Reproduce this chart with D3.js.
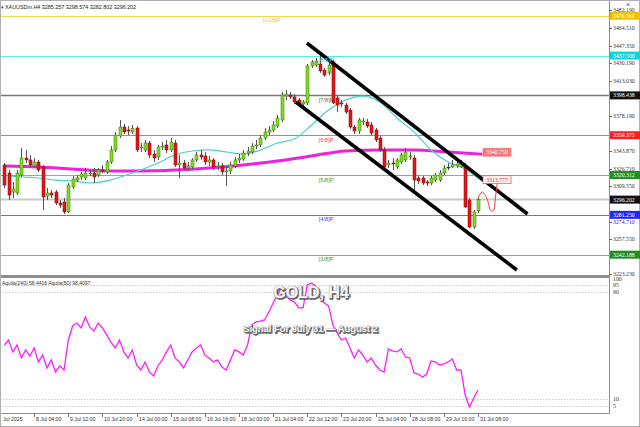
<!DOCTYPE html>
<html><head><meta charset="utf-8">
<script src="https://cdn.jsdelivr.net/npm/d3@7"></script>
<style>body{margin:0;background:#fff}svg{display:block}</style>
</head><body><svg id="c" width="640" height="427"></svg>
<script>
// ---------------- DATA ----------------
const symbolHeader = "XAUUSDm,H4  3285.257 3298.574 3282.802 3296.202";
const opens = [3330.2,3322.3,3303.7,3302.7,3320.3,3337.0,3335.1,3329.2,3333.1,3328.2,
3299.7,3302.7,3303.7,3292.9,3293.9,3284.1,3308.6,3315.4,3318.4,3317.4,
3321.3,3322.3,3320.3,3325.2,3323.3,3333.1,3344.9,3358.6,3367.4,3364.5,
3362.5,3366.4,3346.8,3344.9,3351.7,3340.9,3338.0,3347.8,3349.8,3344.9,
3351.7,3330.2,3332.1,3327.2,3328.2,3335.1,3340.0,3339.0,3333.1,3335.1,
3328.2,3329.2,3323.3,3324.3,3329.2,3335.1,3336.0,3341.9,3342.9,3348.8,
3349.8,3356.6,3362.5,3364.5,3368.4,3374.3,3397.8,3398.8,3396.9,3393.9,
3390.0,3391.0,3427.3,3428.2,3429.2,3423.3,3420.4,3431.2,3395.9,3391.0,
3389.0,3384.1,3367.4,3363.5,3372.3,3372.3,3369.4,3364.5,3356.6,3344.9,
3330.2,3332.1,3328.2,3333.1,3335.1,3338.0,3337.0,3317.4,3317.4,3313.5,
3312.5,3315.4,3315.4,3322.3,3328.2,3328.2,3329.2,3328.2,3328.2,3295.8,
3269.3,3285.257];
const highs = [3332.1,3325.2,3313.5,3325.2,3346.8,3344.9,3340.0,3337.0,3335.1,3330.2,
3307.6,3305.6,3305.6,3295.8,3297.8,3312.5,3319.4,3320.3,3323.3,3327.2,
3325.2,3327.2,3327.2,3330.2,3335.1,3348.8,3362.5,3374.3,3370.4,3368.4,
3369.4,3368.4,3351.7,3354.7,3353.7,3344.9,3349.8,3352.7,3354.7,3356.6,
3354.7,3340.0,3335.1,3333.1,3337.0,3342.9,3344.9,3342.9,3339.0,3337.0,
3333.1,3332.1,3329.2,3333.1,3338.0,3340.9,3344.9,3347.8,3351.7,3354.7,
3359.6,3366.4,3368.4,3373.3,3379.2,3401.8,3403.7,3401.8,3399.8,3395.9,
3393.9,3429.2,3433.2,3435.1,3438.1,3425.3,3430.2,3433.2,3398.8,3393.9,
3391.0,3386.1,3369.4,3376.3,3376.3,3375.3,3372.3,3366.4,3358.6,3347.8,
3335.1,3337.0,3337.0,3341.9,3346.8,3342.9,3340.0,3320.3,3319.4,3315.4,
3319.4,3322.3,3325.2,3330.2,3332.1,3335.1,3335.1,3335.1,3332.1,3297.8,
3286.0,3298.574];
const lows = [3307.6,3295.8,3297.8,3300.7,3318.4,3332.1,3328.2,3327.2,3323.3,3286.0,
3295.8,3297.8,3290.9,3288.0,3282.1,3283.1,3306.6,3313.5,3315.4,3315.4,
3319.4,3312.5,3318.4,3322.3,3321.3,3331.1,3342.9,3356.6,3360.6,3359.6,
3360.6,3342.9,3342.9,3342.9,3337.0,3333.1,3335.1,3344.9,3341.9,3342.9,
3328.2,3317.4,3325.2,3324.3,3326.2,3333.1,3335.1,3330.2,3329.2,3325.2,
3325.2,3320.3,3309.6,3321.3,3327.2,3332.1,3334.1,3339.0,3340.9,3345.8,
3347.8,3354.7,3359.6,3362.5,3366.4,3372.3,3393.9,3394.9,3390.0,3388.0,
3387.0,3389.0,3425.3,3426.3,3420.4,3416.5,3418.4,3390.0,3382.1,3387.0,
3380.2,3365.5,3360.6,3360.6,3369.4,3366.4,3359.6,3352.7,3342.9,3326.2,
3327.2,3325.2,3326.2,3331.1,3333.1,3335.1,3305.6,3311.5,3310.5,3309.6,
3310.5,3313.5,3313.5,3320.3,3325.2,3327.2,3327.2,3327.2,3288.0,3268.4,
3267.4,3282.802];
const closes = [3310.5,3300.7,3306.6,3322.3,3337.0,3335.1,3330.2,3333.1,3325.2,3298.8,
3302.7,3300.7,3292.9,3290.9,3284.1,3310.5,3316.4,3317.4,3321.3,3322.3,
3322.3,3318.4,3325.2,3325.0,3333.1,3344.9,3359.6,3367.4,3362.5,3363.5,
3366.4,3344.9,3347.8,3351.7,3340.0,3337.0,3347.8,3348.8,3344.9,3352.7,
3330.2,3332.1,3327.2,3329.2,3335.1,3340.0,3338.0,3333.1,3335.1,3328.2,
3329.2,3323.3,3324.3,3330.2,3335.1,3337.0,3341.9,3343.9,3348.8,3349.8,
3356.6,3362.5,3364.5,3369.4,3376.3,3398.8,3399.8,3396.9,3392.0,3390.0,
3392.0,3427.3,3431.2,3432.2,3422.4,3418.4,3428.2,3391.0,3389.0,3390.0,
3382.1,3367.4,3363.5,3374.3,3373.3,3368.4,3361.5,3354.7,3344.9,3328.2,
3332.1,3331.1,3335.1,3340.0,3342.9,3339.0,3315.4,3314.5,3312.5,3312.5,
3317.4,3320.3,3322.3,3327.2,3327.5,3330.2,3331.1,3332.1,3289.0,3269.3,
3284.1,3296.202];

// moving averages (at every 4th / 8th bar)
const maFastIdx = [0,4,8,12,16,20,24,28,32,36,40,44,48,52,56,60,64,68,72,76,80,84,88,92,96,100,104,108,112];
const maFastVal = [3320.3,3318.4,3317.4,3315.4,3314.5,3312.5,3314.5,3319.4,3325.2,3332.1,3340.0,3343.9,3344.9,3342.9,3340.9,3344.9,3351.7,3355.7,3369.4,3384.1,3393.9,3397.8,3392.0,3376.3,3362.5,3344.9,3333.1,3326.2,3313.8];
const maSlowIdx = [0,8,16,24,32,40,48,56,64,72,80,88,96,104,112];
const maSlowVal = [3329.2,3328.2,3326.2,3324.3,3324.3,3325.2,3327.2,3330.2,3334.1,3339.0,3343.9,3344.9,3344.9,3342.9,3340.75];
const maLabels = ["3340.750","3313.777"];

// Murrey levels
const levelNames = ["[+1/8]P","[8/8]P","[7/8]P","[6/8]P","[5/8]P","[4/8]P","[3/8]P"];
const levelValues = [3476.562,3437.500,3398.438,3359.375,3320.312,3281.250,3242.188];
const levelLabels = ["3476.562","3437.500","3398.438","3359.375","3320.312","3281.250","3242.188"];

// channel lines [barIndex, price]
const channelUpper = [[70.9,3449.8],[122.6,3282.1]];
const channelLower = [[68.3,3392.0],[120.1,3227.2]];
// projected path
const projection = [[111,3297.8],[112,3303.6],[113.1,3297.0],[114,3285.5],[114.6,3285.0],[115.1,3299.0],[115.5,3313.0]];

// oscillator
const oscValues = [50.4,54.1,45.2,50.4,40.7,46.7,42.2,48.1,37.7,42.9,
33.2,39.2,30.2,34.7,31.7,54.1,64.6,66.8,63.1,71.3,
63.9,60.9,66.8,63.1,57.9,52.6,48.1,54.1,45.2,40.7,
46.7,35.4,31.7,37.7,30.2,27.2,34.7,39.2,45.2,50.4,
40.7,37.7,33.2,39.2,45.2,48.1,50.4,42.9,40.7,37.7,
39.2,33.9,31.7,39.2,46.7,45.2,42.9,50.4,65.3,67.6,
68.3,69.1,75.1,81.8,87.8,93.8,87.0,84.0,82.5,78.1,
78.1,95.2,96.7,94.5,85.5,81.8,79.6,65.3,59.4,54.1,
55.6,48.1,40.7,46.7,42.9,37.7,40.7,35.4,31.7,30.2,
47.4,45.9,45.2,47.4,41.4,40.7,29.5,28.7,26.5,28.7,
38.4,37.7,35.4,36.2,37.7,39.9,31.7,31.7,13.0,4.0,
10.8,16.7];
const oscLegend = "Aquila(240) 58.4416   Aquila(50) 98.4097";
const oscLevels = [95,90,10,5];
const oscTickLabels = [100,95,90,10,5];

// visible price-axis ticks (those hidden behind level boxes omitted)
const priceTicks = [3482.190,3464.510,3447.350,3430.190,3413.030,3378.190,3343.870,3326.710,3309.550,3274.710,3257.550,3223.230];
const timeTickIdx = [-1,7,15,23,31,39,47,55,63,71,79,87,95,103,111];
const timeTickLabels = ["Jul 2025","8 Jul 04:00","9 Jul 12:00","10 Jul 20:00","14 Jul 00:00","15 Jul 08:00","16 Jul 16:00","18 Jul 00:00","21 Jul 04:00","22 Jul 12:00","23 Jul 20:00","25 Jul 04:00","28 Jul 08:00","29 Jul 16:00","31 Jul 08:00"];
const titleText = "GOLD, H4";
const subtitleText = "Signal For July 31 \u2014 August 2";

// ---------------- DRAW ----------------
const svg = d3.select('#c');
const PR = 609; // plot right edge
const x = d3.scaleLinear().domain([0,111]).range([4.3,478]);
const y = d3.scaleLinear().domain([3223.23,3482.19]).range([274,10]);
const yi = d3.scaleLinear().domain([0,100]).range([412.4,278.6]);
const FONT = "'Liberation Sans','DejaVu Sans',sans-serif";
const SERIF = "'Liberation Serif','DejaVu Serif',serif";

svg.append('rect').attr('width',640).attr('height',427).attr('fill','#fff');
const defs = svg.append('defs');
defs.append('clipPath').attr('id','cm').append('rect').attr('x',0).attr('y',0).attr('width',PR).attr('height',275);
defs.append('clipPath').attr('id','ci').append('rect').attr('x',0).attr('y',279).attr('width',PR).attr('height',134);

const main = svg.append('g').attr('clip-path','url(#cm)');

const lineCol = ["#f3d35a","#5ee8e8","#7a7a7a","#f26a6a","#6cc46c","#6a6af2","#6cc46c"];
const boxCol  = ["#f2c200","#12d6d6","#111111","#ff1f1f","#1f8f1f","#2424ff","#1f8f1f"];
const txtCol  = ["#e6c040","#3cc8c8","#666","#e04848","#3a9a3a","#4848e0","#3a9a3a"];
const levels = levelValues.map((v,k)=>({v,k}));

// levels
main.selectAll('line.lv').data(levels).join('line')
  .attr('x1',0).attr('x2',PR)
  .attr('y1',d=>Math.round(y(d.v))+0.5).attr('y2',d=>Math.round(y(d.v))+0.5)
  .attr('stroke',d=>lineCol[d.k]).attr('stroke-width',d=>d.k===2?1.3:1);

// current price line
const last = closes[closes.length-1];
main.append('line').attr('x1',0).attr('x2',PR).attr('y1',y(last)).attr('y2',y(last))
  .attr('stroke','#c9c9c9').attr('stroke-width',2);

// moving averages
const maLine = d3.line().x(d=>x(d[0])).y(d=>y(d[1])).curve(d3.curveMonotoneX);
main.append('path').attr('d',maLine(maSlowIdx.map((d,k)=>[d,maSlowVal[k]])))
  .attr('fill','none').attr('stroke','#ee22dd').attr('stroke-width',3);
main.append('path').attr('d',maLine(maFastIdx.map((d,k)=>[d,maFastVal[k]])))
  .attr('fill','none').attr('stroke','#45d3ca').attr('stroke-width',1.2);

// candles
const bars = opens.map((o,i)=>({i,o,h:highs[i],l:lows[i],c:closes[i]}));
const cx = i=>Math.round(x(i));
main.selectAll('line.wk').data(bars).join('line')
  .attr('x1',d=>cx(d.i)+0.5).attr('x2',d=>cx(d.i)+0.5)
  .attr('y1',d=>y(d.h)).attr('y2',d=>y(d.l))
  .attr('stroke','#555').attr('stroke-width',1);
main.selectAll('rect.bd').data(bars).join('rect')
  .attr('x',d=>cx(d.i)-1).attr('width',3)
  .attr('y',d=>y(Math.max(d.o,d.c)))
  .attr('height',d=>Math.max(1,Math.abs(y(d.o)-y(d.c))))
  .attr('fill',d=>d.c>=d.o?'#7fdf1f':'#e31616')
  .attr('stroke',d=>d.c>=d.o?'#3d6b12':'#7d0b0b').attr('stroke-width',0.5);

// channel
[channelUpper,channelLower].forEach(ch=>{
  main.append('line').attr('x1',x(ch[0][0])).attr('y1',y(ch[0][1]))
    .attr('x2',x(ch[1][0])).attr('y2',y(ch[1][1]))
    .attr('stroke','#000').attr('stroke-width',3.6);
});

// projection
main.append('path').attr('d',d3.line().x(d=>x(d[0])).y(d=>y(d[1])).curve(d3.curveCatmullRom)(projection))
  .attr('fill','none').attr('stroke','#e23a3a').attr('stroke-width',1);

// level labels
main.selectAll('text.lvl').data(levels).join('text')
  .attr('x',d=>d.k===0?x(60.6):x(73.7)).attr('y',d=>y(d.v)+6.5)
  .attr('font-family',FONT).attr('font-size',5.6).attr('fill',d=>txtCol[d.k])
  .text(d=>levelNames[d.k]);

// MA labels
const maLab = [{v:maSlowVal[maSlowVal.length-1],t:maLabels[0],f:'#f27a7a',s:'#f27a7a',tc:'#fff'},
               {v:maFastVal[maFastVal.length-1],t:maLabels[1],f:'#fff0f0',s:'#f05050',tc:'#e63a3a'}];
maLab.forEach(m=>{
  const yy = y(m.v)-2;
  main.append('rect').attr('x',483).attr('y',yy-4).attr('width',28).attr('height',8)
    .attr('fill',m.f).attr('stroke',m.s).attr('stroke-width',0.7);
  main.append('text').attr('x',497).attr('y',yy+2).attr('text-anchor','middle')
    .attr('font-family',SERIF).attr('font-size',5.8).attr('fill',m.tc).text(m.t);
});

// header
svg.append('text').attr('x',1).attr('y',8.5).attr('font-size',5).attr('fill','#333').text('\u25BE');
svg.append('text').attr('x',5).attr('y',8.5).attr('font-family',FONT).attr('font-size',5.4)
  .attr('fill','#222').text(symbolHeader);
svg.append('text').attr('x',626).attr('y',7).attr('font-family',FONT).attr('font-size',7).attr('fill','#555').text('\u00D7');

// indicator
const ind = svg.append('g').attr('clip-path','url(#ci)');
ind.selectAll('line.ol').data(oscLevels).join('line')
  .attr('x1',0).attr('x2',PR).attr('y1',d=>Math.round(yi(d))+0.5).attr('y2',d=>Math.round(yi(d))+0.5)
  .attr('stroke','#bbb').attr('stroke-dasharray','1.5,1.5').attr('stroke-width',0.8);
ind.append('path').attr('d',d3.line().x((d,i)=>x(i)).y(d=>yi(d))(oscValues))
  .attr('fill','none').attr('stroke','#ff1cff').attr('stroke-width',1.3);
svg.append('text').attr('x',2).attr('y',285).attr('font-family',FONT).attr('font-size',5)
  .attr('fill','#333').text(oscLegend);

// overlay titles
function emboss(t,xx,yy,size){
  svg.append('text').attr('x',xx+1).attr('y',yy+1.2).attr('text-anchor','middle')
    .attr('font-family',FONT).attr('font-weight','bold').attr('font-size',size)
    .attr('fill','#666').attr('stroke','#666').attr('stroke-width',1.4).text(t);
  svg.append('text').attr('x',xx).attr('y',yy).attr('text-anchor','middle')
    .attr('font-family',FONT).attr('font-weight','bold').attr('font-size',size)
    .attr('fill','#f6f6f6').attr('stroke','#8a8a8a').attr('stroke-width',0.7)
    .attr('paint-order','stroke').text(t);
}
emboss(titleText,311,298,16);
emboss(subtitleText,310.5,332,9.4);

// frames
svg.append('rect').attr('x',0).attr('y',275).attr('width',PR).attr('height',3).attr('fill','#8c8c8c');
svg.append('line').attr('x1',PR+0.5).attr('x2',PR+0.5).attr('y1',0).attr('y2',413.5).attr('stroke','#8c8c8c');
svg.append('line').attr('x1',0).attr('x2',PR+0.5).attr('y1',413.5).attr('y2',413.5).attr('stroke','#8c8c8c');
svg.append('rect').attr('x',0.5).attr('y',0.5).attr('width',639).attr('height',426)
  .attr('fill','none').attr('stroke','#b0b0b0');

// right price axis
const ax = svg.append('g');
ax.selectAll('line.pt').data(priceTicks).join('line')
  .attr('x1',PR).attr('x2',PR+3).attr('y1',d=>Math.round(y(d))+0.5).attr('y2',d=>Math.round(y(d))+0.5)
  .attr('stroke','#666');
ax.selectAll('text.pt').data(priceTicks).join('text')
  .attr('x',PR+4).attr('y',d=>y(d)+2)
  .attr('font-family',SERIF).attr('font-size',5.8).attr('fill','#333')
  .text(d=>d3.format('.3f')(d));
// colored level boxes
const boxes = levels.map(d=>({v:d.v,t:levelLabels[d.k],f:boxCol[d.k]}))
  .concat([{v:last,t:d3.format('.3f')(last),f:'#111'}]);
boxes.forEach(b=>{
  const yy=y(b.v);
  ax.append('rect').attr('x',PR+1).attr('y',yy-4).attr('width',30).attr('height',8).attr('fill',b.f);
  ax.append('text').attr('x',PR+4).attr('y',yy+2).attr('font-family',SERIF).attr('font-size',5.8)
    .attr('fill','#fff').text(b.t);
});
// indicator axis
ax.selectAll('text.it').data(oscTickLabels).join('text')
  .attr('x',PR+4).attr('y',d=>yi(d)+2).attr('font-family',SERIF).attr('font-size',5.8)
  .attr('fill','#333').text(d=>d);

// time axis
const tx = svg.append('g');
tx.selectAll('line.tt').data(timeTickIdx.filter(d=>d>=0)).join('line')
  .attr('x1',d=>cx(d)+0.5).attr('x2',d=>cx(d)+0.5).attr('y1',413).attr('y2',417).attr('stroke','#777');
tx.selectAll('text.tt').data(timeTickIdx).join('text')
  .attr('x',d=>d<0?3:cx(d)+2).attr('y',421)
  .attr('font-family',FONT).attr('font-size',5.2).attr('fill','#333')
  .text((d,k)=>timeTickLabels[k]);
</script></body></html>
